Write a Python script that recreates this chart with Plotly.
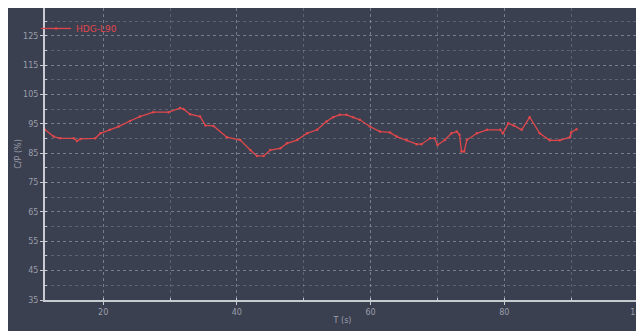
import plotly.graph_objects as go

# data
x_vals = [11.3, 12.6, 13.6, 15.6, 16.1, 16.6, 18.8, 19.6, 21.0, 22.3, 24.0, 25.5, 27.5, 29.8,
          31.5, 32.0, 33.0, 34.5, 35.3, 36.5, 38.5, 40.5, 42.0, 43.0, 44.0, 45.0, 46.5, 47.5,
          49.0, 50.5, 52.0, 53.4, 54.4, 55.4, 56.4, 57.4, 58.4, 59.9, 61.4, 62.9, 63.9, 65.4,
          66.9, 67.6, 68.9, 69.6, 70.0, 71.1, 72.1, 72.9, 73.3, 73.6, 74.0, 74.4, 75.9, 77.4,
          79.4, 79.8, 80.6, 81.4, 82.6, 83.8, 85.3, 86.8, 88.3, 89.8, 90.0, 90.8]
y_vals = [93.0, 90.7, 90.1, 90.1, 89.2, 89.9, 90.1, 91.8, 93.0, 94.1, 96.0, 97.5, 99.0, 99.0,
          100.4, 100.1, 98.3, 97.5, 94.5, 94.3, 90.5, 89.5, 86.1, 84.1, 84.1, 86.1, 86.7, 88.4,
          89.5, 91.8, 93.0, 95.8, 97.3, 98.1, 98.1, 97.3, 96.4, 94.1, 92.4, 92.1, 90.7, 89.4,
          88.1, 88.1, 90.1, 90.1, 87.8, 89.5, 91.8, 92.4, 91.3, 85.6, 85.6, 89.5, 91.8, 93.0,
          93.0, 91.8, 95.2, 94.5, 93.0, 97.3, 91.8, 89.4, 89.4, 90.5, 92.1, 93.2]
series_name = "HDG-L90"
x_ticks = [20, 40, 60, 80, 100]
y_ticks = [35, 45, 55, 65, 75, 85, 95, 105, 115, 125]

BG = "#3b4050"
AX = "#c8cbd2"
TXT = "#9a9eab"
GRID = "rgba(200,205,215,0.25)"
RED = "#e0474c"

fig = go.Figure()
fig.add_trace(go.Scatter(
    x=x_vals, y=y_vals, mode="lines+markers", name=series_name,
    line=dict(color=RED, width=1.3),
    marker=dict(color=RED, size=2.5),
))

fig.update_layout(
    width=636, height=323,
    margin=dict(l=37, r=4, t=0, b=31, autoexpand=False),
    paper_bgcolor=BG, plot_bgcolor=BG,
    font=dict(family="DejaVu Sans", size=8, color=TXT),
    showlegend=True,
    legend=dict(x=-0.015, y=0.93, xanchor="left", yanchor="middle",
                bgcolor="rgba(0,0,0,0)", font=dict(color=RED, size=9),
                itemwidth=30),
)
fig.update_xaxes(
    range=[11.3, 100.3], tickmode="array", tickvals=x_ticks,
    ticktext=[str(v) for v in x_ticks], ticklabeloverflow="allow",
    showline=True, linecolor=AX, linewidth=2,
    showgrid=True, gridcolor=GRID, griddash="3px,3px", gridwidth=1,
    ticks="outside", ticklen=3, tickcolor=AX,
    minor=dict(dtick=10, tick0=0, ticks="inside", ticklen=2, tickcolor=AX,
               showgrid=True, gridcolor=GRID, griddash="3px,3px"),
    zeroline=False, automargin=False,
    title=dict(text="T (s)", font=dict(size=8, color=TXT), standoff=2),
)
fig.update_yaxes(
    range=[35, 134.5], tickmode="array", tickvals=y_ticks,
    showline=True, linecolor=AX, linewidth=2,
    showgrid=True, gridcolor=GRID, griddash="3px,3px", gridwidth=1,
    ticks="outside", ticklen=3, tickcolor=AX,
    minor=dict(dtick=5, tick0=35, ticks="inside", ticklen=2, tickcolor=AX,
               showgrid=True, gridcolor=GRID, griddash="3px,3px"),
    zeroline=False, automargin=False,
    title=dict(text="C/P (%)", font=dict(size=8, color=TXT), standoff=0),
)

fig.write_html("out.html")
